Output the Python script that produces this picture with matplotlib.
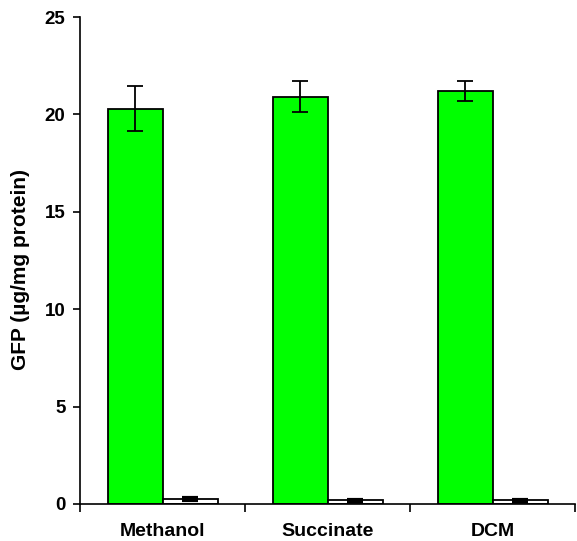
import numpy as np
import matplotlib.pyplot as plt

plt.rcParams['font.family'] = ['Liberation Sans', 'DejaVu Sans']
plt.rcParams['font.weight'] = 'bold'

# datos
categorias = ['Methanol', 'Succinate', 'DCM']
gfp_verde = [20.3, 20.9, 21.2]
err_verde = [1.15, 0.8, 0.5]
gfp_blanco = [0.25, 0.18, 0.18]
err_blanco = [0.05, 0.05, 0.05]

fig = plt.figure(figsize=(5.77, 5.41), dpi=100)
ax = fig.add_axes([80 / 577, 37 / 541, 495 / 577, 487 / 541])

x = np.arange(len(categorias)) + 0.5
ancho = 1 / 3

ax.bar(x - ancho / 2, gfp_verde, ancho, color='#00ff00', edgecolor='black', linewidth=1.3,
       yerr=err_verde, error_kw=dict(ecolor='black', elinewidth=1.3, capsize=6, capthick=1.3))
ax.bar(x + ancho / 2, gfp_blanco, ancho, color='white', edgecolor='black', linewidth=1.3,
       yerr=err_blanco, error_kw=dict(ecolor='black', elinewidth=1.3, capsize=6, capthick=3))

ax.set_xlim(0, 3)
ax.set_ylim(0, 25)
ax.set_yticks([0, 5, 10, 15, 20, 25])
ax.set_xticks([0, 1, 2, 3])
ax.set_xticklabels([])
ax.set_xticks(x, minor=True)
ax.set_xticklabels(categorias, minor=True, fontsize=14, fontweight='bold')
ax.tick_params(axis='x', which='minor', length=0, pad=13.5)
ax.tick_params(axis='x', which='major', length=6, width=1.2, direction='out')
ax.tick_params(axis='y', length=5, width=1.2, direction='out', labelsize=13.5, pad=5.5)
for lab in ax.get_yticklabels():
    lab.set_fontweight('bold')

ax.spines['top'].set_visible(False)
ax.spines['right'].set_visible(False)
ax.spines['left'].set_linewidth(1.2)
ax.spines['bottom'].set_linewidth(1.2)

ax.set_ylabel('GFP (µg/mg protein)', fontsize=15, fontweight='bold')
ax.yaxis.set_label_coords(-0.101, 0.4825)

plt.savefig('out.png', dpi=100)
